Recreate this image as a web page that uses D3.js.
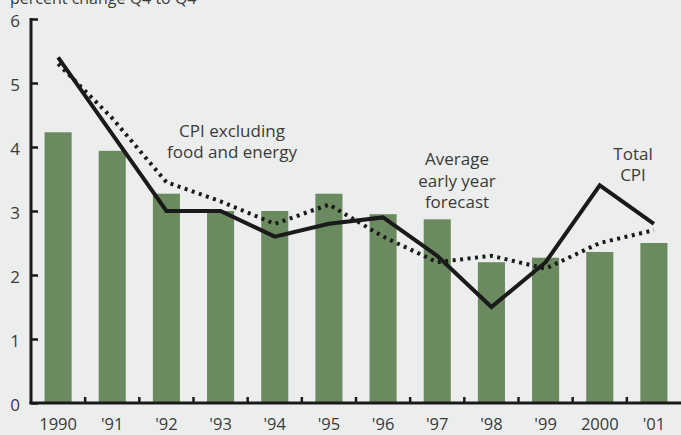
<!DOCTYPE html>
<html>
<head>
<meta charset="utf-8">
<script src="https://cdn.jsdelivr.net/npm/d3@7"></script>
<style>
  body { margin: 0; background: #eceeed; }
  text { font-family: "Open Sans", sans-serif; fill: #3a3a3a; }
</style>
</head>
<body>
<div id="chart-area"></div>
<script>
// CPI inflation vs. early-year forecasts
const years = ["1990", "'91", "'92", "'93", "'94", "'95", "'96", "'97", "'98", "'99", "2000", "'01"];
const forecast = [4.23, 3.94, 3.27, 3.0, 3.0, 3.27, 2.95, 2.87, 2.2, 2.27, 2.36, 2.5];
const totalCpi = [5.4, 4.2, 3.0, 3.0, 2.6, 2.8, 2.9, 2.3, 1.5, 2.2, 3.4, 2.8];
const coreCpi = [5.3, 4.45, 3.45, 3.15, 2.8, 3.1, 2.6, 2.2, 2.3, 2.1, 2.5, 2.7];
const yTicks = [0, 1, 2, 3, 4, 5, 6];

const width = 681;
const height = 435;
const margin = {left: 31, right: 0, top: 19, bottom: 32};

const svg = d3.select("#chart-area")
    .append("svg")
        .attr("width", width)
        .attr("height", height);

svg.append("rect")
    .attr("width", width)
    .attr("height", height)
    .attr("fill", "#eceeed");

const x = d3.scaleBand()
    .domain(years)
    .range([margin.left, width - margin.right])
    .paddingInner(0.5)
    .paddingOuter(0.25);

const xTick = d3.scaleBand()
    .domain(years)
    .range([margin.left, width - margin.right]);

const y = d3.scaleLinear().domain([0, 6]).range([height - margin.bottom, margin.top]);

// bars
svg.selectAll("rect.bar").data(forecast).enter().append("rect")
    .attr("class", "bar")
    .attr("x", (d, i) => x(years[i]))
    .attr("y", d => y(d))
    .attr("width", x.bandwidth())
    .attr("height", d => y(0) - y(d))
    .attr("fill", "#6b8a5f");

const cx = (d, i) => xTick(years[i]) + xTick.bandwidth() / 2;
const line = d3.line().x(cx).y(d => y(d));

svg.append("path")
    .datum(coreCpi)
    .attr("d", line)
    .attr("fill", "none")
    .attr("stroke", "#1a1a1a")
    .attr("stroke-width", 4)
    .attr("stroke-dasharray", "3,4.5");

svg.append("path")
    .datum(totalCpi)
    .attr("d", line)
    .attr("fill", "none")
    .attr("stroke", "#1a1a1a")
    .attr("stroke-width", 4)
    .attr("stroke-linejoin", "miter");

// axes
const yAxis = svg.append("g")
    .attr("transform", "translate(" + margin.left + ",0)")
    .call(d3.axisRight(y).tickValues(yTicks).tickSize(7).tickFormat(""));
yAxis.select(".domain").remove();
yAxis.selectAll("line").attr("stroke", "#1a1a1a").attr("stroke-width", 2.5);

svg.append("line")
    .attr("x1", margin.left).attr("x2", margin.left)
    .attr("y1", y(6) - 1).attr("y2", y(0) + 1)
    .attr("stroke", "#1a1a1a").attr("stroke-width", 3);

svg.selectAll("text.ylab").data(yTicks).enter().append("text")
    .attr("class", "ylab")
    .attr("x", 20)
    .attr("y", d => y(d) + 8)
    .attr("text-anchor", "end")
    .attr("font-size", "17px")
    .text(d => d);

const xAxis = svg.append("g")
    .attr("transform", "translate(0," + y(0) + ")");
xAxis.selectAll("line").data(years.slice(1)).enter().append("line")
    .attr("x1", d => xTick(d)).attr("x2", d => xTick(d))
    .attr("y1", 0).attr("y2", -6)
    .attr("stroke", "#1a1a1a").attr("stroke-width", 2.5);
xAxis.append("line")
    .attr("x1", margin.left - 1.5).attr("x2", width)
    .attr("y1", 0).attr("y2", 0)
    .attr("stroke", "#1a1a1a").attr("stroke-width", 3);

svg.selectAll("text.xlab").data(years).enter().append("text")
    .attr("class", "xlab")
    .attr("x", d => xTick(d) + xTick.bandwidth() / 2)
    .attr("y", 430)
    .attr("text-anchor", "middle")
    .attr("font-size", "16.5px")
    .text(d => d);

// title (cut off at top)
svg.append("text")
    .attr("x", 10)
    .attr("y", 4)
    .attr("font-size", "16px")
    .text("percent change Q4 to Q4");

// annotations
function label(lines, cxPos, y0, dy) {
    svg.append("text")
        .attr("text-anchor", "middle")
        .attr("font-size", "17px")
        .selectAll("tspan").data(lines).enter().append("tspan")
            .attr("x", cxPos)
            .attr("y", (d, i) => y0 + i * dy)
            .text(d => d);
}
label(["CPI excluding", "food and energy"], 232, 137, 21);
label(["Average", "early year", "forecast"], 457, 165, 21.5);
label(["Total", "CPI"], 633, 160, 21);
</script>
</body>
</html>
